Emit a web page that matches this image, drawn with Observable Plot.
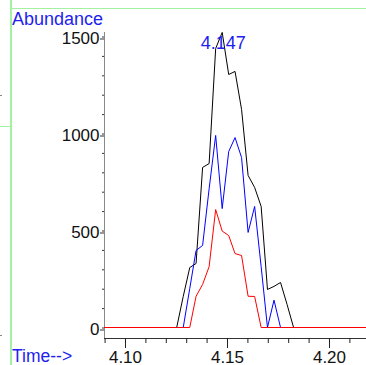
<!DOCTYPE html>
<html>
<head>
<meta charset="utf-8">
<script src="https://cdn.jsdelivr.net/npm/d3@7"></script>
<script src="https://cdn.jsdelivr.net/npm/@observablehq/plot@0.6"></script>
<style>
  html, body { margin: 0; padding: 0; background: #fff; }
  #wrap { position: relative; width: 366px; height: 365px; overflow: hidden; font-family: "Liberation Sans", Arial, sans-serif; }
  #wrap svg { position: absolute; left: 0; top: 0; }
  .g { position: absolute; background: #a2f2a2; }
  .d { position: absolute; background: #888; }
  .lbl { position: absolute; color: #1e1ef0; white-space: nowrap; line-height: 1; }
</style>
</head>
<body>
<div id="wrap"></div>
<script>
// scan times (min)
const times = [4.0897, 4.1251, 4.1283, 4.1315, 4.1346, 4.1378, 4.1410, 4.1442, 4.1474, 4.1506, 4.1537,
               4.1569, 4.1601, 4.1633, 4.1665, 4.1696, 4.1728, 4.1760, 4.1792, 4.1824, 4.2181];
// abundances
const totalIon = [0, 0, 160, 309, 330, 825, 845, 1438, 1521, 1304, 1320, 1124, 784, 722, 624, 196, 212, 232, 119, 0, 0];
const ionBlue  = [0, 0, 0, 201, 397, 423, 715, 990, 613, 907, 979, 876, 490, 624, 314, 0, 141, 0, 0, 0, 0];
const ionRed   = [0, 0, 0, 0, 161, 222, 314, 608, 497, 474, 381, 371, 161, 160, 0, 0, 0, 0, 0, 0, 0];
const seriesNames = ["black", "blue", "red"];
const seriesColors = ["#000000", "#0000ff", "#ff0000"];
const yMajorTicks = [0, 500, 1000, 1500];
const yMinorTicks = [0, 100, 200, 300, 400, 500, 600, 700, 800, 900, 1000, 1100, 1200, 1300, 1400, 1500];
const xMajorTicks = [4.10, 4.15, 4.20];
const xMinorTicks = [4.09, 4.10, 4.11, 4.12, 4.13, 4.14, 4.15, 4.16, 4.17, 4.18, 4.19, 4.20, 4.21];
const peakLabel = "4.147";
const peakTime = 4.1474;
const peakValue = 1521;
const xLabel = "Time-->";
const yLabel = "Abundance";

const xDomain = [4.08971, 4.21814];
const yDomain = [-54.1, 1523.2];

const rows = [];
[totalIon, ionBlue, ionRed].forEach((vals, s) => {
  vals.forEach((v, i) => rows.push({series: seriesNames[s], t: times[i], v}));
});

const chart = Plot.plot({
  width: 366,
  height: 365,
  marginLeft: 104,
  marginRight: 0,
  marginTop: 32,
  marginBottom: 27,
  style: {fontFamily: "'Liberation Sans', Arial, sans-serif", background: "transparent"},
  x: {domain: xDomain, label: null},
  y: {domain: yDomain, label: null},
  color: {domain: seriesNames, range: seriesColors},
  marks: [
    Plot.ruleX([xDomain[0]], {stroke: "#8a8a8a", strokeWidth: 1}),
    Plot.ruleY([yDomain[0]], {stroke: "#333", strokeWidth: 1}),
    Plot.axisY(yMinorTicks, {tickSize: 2, tickFormat: () => "", stroke: "#333", label: null}),
    Plot.axisY(yMajorTicks, {tickSize: 4, tickPadding: 1, fontSize: 17, dy: 2, stroke: "#333", fill: "#111", tickFormat: d => String(d), label: null}),
    Plot.axisX(xMinorTicks, {tickSize: 5, tickFormat: () => "", stroke: "#222", label: null}),
    Plot.axisX(xMajorTicks, {tickSize: 10, tickPadding: 2, fontSize: 17, stroke: "#222", fill: "#111", tickFormat: d3.format(".2f"), label: null}),
    Plot.line(rows, {x: "t", y: "v", z: "series", stroke: "series", strokeWidth: 1, dy: -0.5}),
    Plot.text([{t: peakTime, v: peakValue}], {x: "t", y: "v", text: () => peakLabel, dy: 10, dx: 1, fontSize: 18, fill: "#1e1ef0"})
  ]
});

const wrap = document.getElementById("wrap");
wrap.appendChild(chart);

function addDiv(cls, css, text) {
  const d = document.createElement("div");
  d.className = cls;
  Object.assign(d.style, css);
  if (text) d.textContent = text;
  wrap.appendChild(d);
}
// frame remnants of the surrounding report page
addDiv("g", {left: "10px", top: "0px", width: "2px", height: "365px"});
addDiv("g", {left: "10px", top: "8px", width: "356px", height: "1px"});
addDiv("g", {left: "0px", top: "126px", width: "10px", height: "1px"});
addDiv("d", {left: "0px", top: "95px", width: "2px", height: "1px"});
addDiv("d", {left: "0px", top: "335px", width: "2px", height: "1px"});
// labels
addDiv("lbl", {left: "12px", top: "10px", fontSize: "18px"}, yLabel);
addDiv("lbl", {left: "12px", top: "348px", fontSize: "17.5px"}, xLabel);
</script>
</body>
</html>
